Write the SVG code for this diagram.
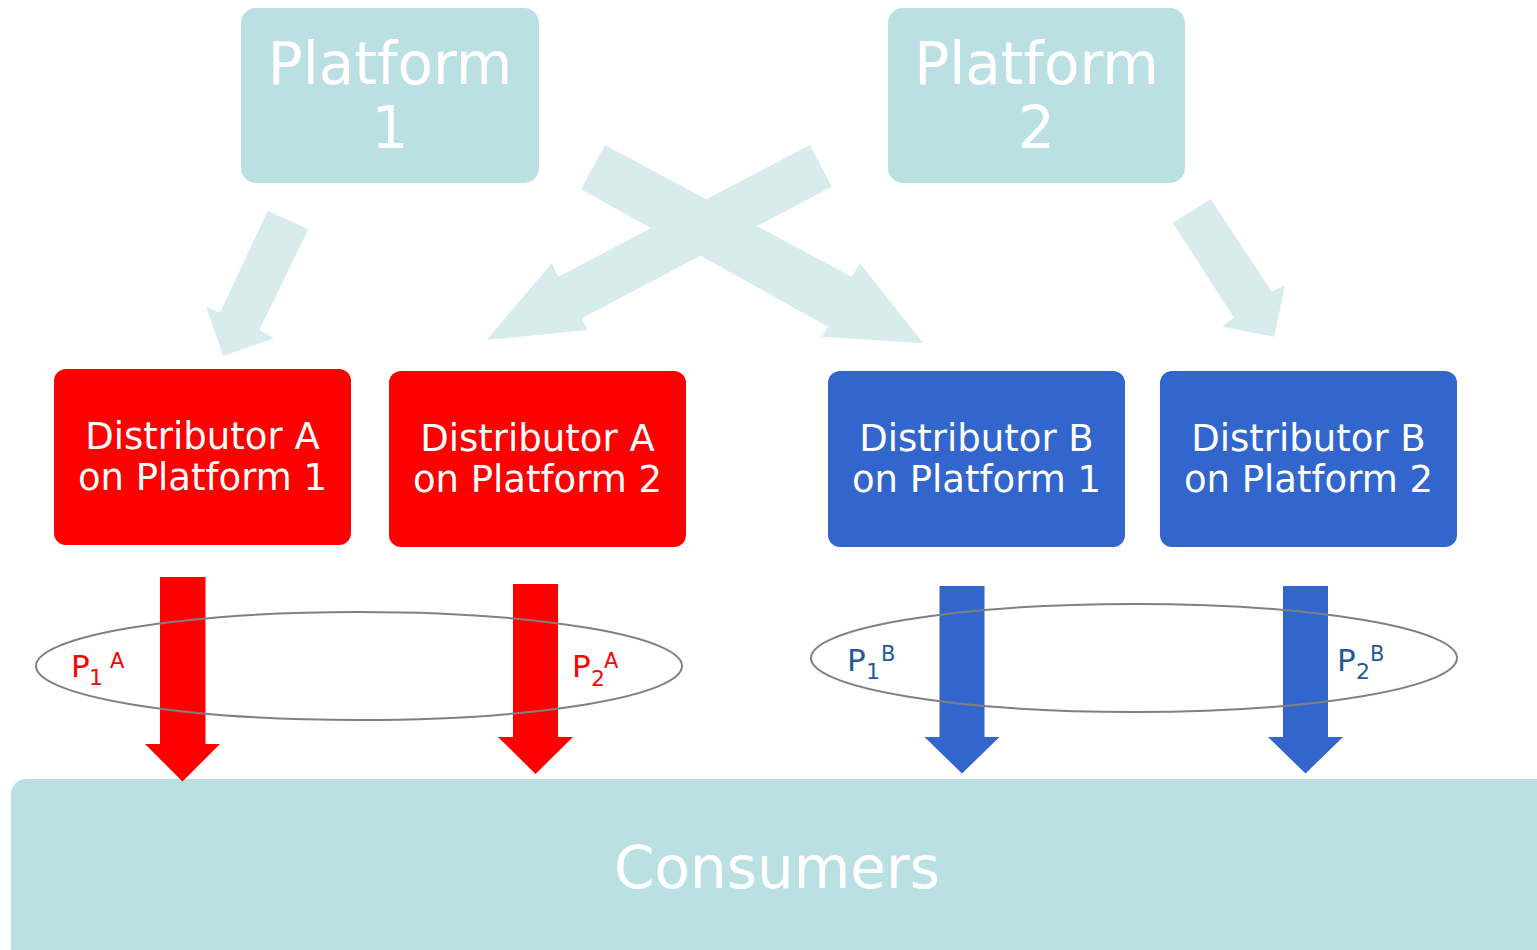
<svg xmlns="http://www.w3.org/2000/svg" width="1537" height="950" viewBox="0 0 1537 950">
  <style>
    .platform rect { fill: #BBE0E3; }
    .platform text { fill: #FFFFFF; font-family: "DejaVu Sans", Verdana, sans-serif; font-size: 58px; text-anchor: middle; }
    .dist text { fill: #FFFFFF; font-family: "DejaVu Sans", Verdana, sans-serif; font-size: 37px; text-anchor: middle; }
    .distA rect { fill: #FF0000; }
    .distB rect { fill: #3366CC; }
    .flow { fill: #D8ECEE; }
    .downA { fill: #FF0000; }
    .downB { fill: #3366CC; }
    .group { fill: none; stroke: #808080; stroke-width: 2; }
    .price { font-family: "DejaVu Sans", Verdana, sans-serif; font-size: 31px; }
    .priceA { fill: #FF0000; }
    .priceB { fill: #1F5A9A; }
  </style>

  <!-- platforms -->
  <g id="platform1" class="platform">
    <rect x="241" y="8" width="298" height="175" rx="15"/>
    <text x="390" y="84">Platform</text>
    <text x="390" y="148">1</text>
  </g>
  <g id="platform2" class="platform">
    <rect x="888" y="8" width="297" height="175" rx="15"/>
    <text x="1036.5" y="84">Platform</text>
    <text x="1036.5" y="148">2</text>
  </g>

  <!-- distributors -->
  <g id="distA1" class="dist distA">
    <rect x="54" y="369" width="297" height="176" rx="12"/>
    <text x="202.5" y="449">Distributor A</text>
    <text x="202.5" y="490">on Platform 1</text>
  </g>
  <g id="distA2" class="dist distA">
    <rect x="389" y="371" width="297" height="176" rx="12"/>
    <text x="537.5" y="451">Distributor A</text>
    <text x="537.5" y="492">on Platform 2</text>
  </g>
  <g id="distB1" class="dist distB">
    <rect x="828" y="371" width="297" height="176" rx="12"/>
    <text x="976.5" y="451">Distributor B</text>
    <text x="976.5" y="492">on Platform 1</text>
  </g>
  <g id="distB2" class="dist distB">
    <rect x="1160" y="371" width="297" height="176" rx="12"/>
    <text x="1308.5" y="451">Distributor B</text>
    <text x="1308.5" y="492">on Platform 2</text>
  </g>

  <!-- consumers -->
  <g id="consumers" class="platform">
    <rect x="11" y="779" width="1546" height="190" rx="15"/>
    <text x="777" y="888">Consumers</text>
  </g>

  <!-- connectors -->
  <g id="connectors">
    <!-- platforms to distributors -->
    <polygon class="flow" points="267.7,210.7 308.3,229.3 259.3,330 274,338.3 223.3,356 206,306.7 220,312.7"/>
    <polygon class="flow" points="605,145 581,189.3 828,326.7 821.7,336.7 923.3,343.3 860,263.3 851.7,276.7"/>
    <polygon class="flow" points="810,145 831.7,186.7 581.7,318.3 587.3,330 486.7,340 551.7,263.3 558.3,276.7"/>
    <polygon class="flow" points="1172.7,222.7 1210.7,199 1271.7,291.7 1285,285 1274.3,336.7 1221.7,326.7 1234,317.7"/>
    <!-- distributors to consumers -->
    <polygon class="downA" points="160,577 205.5,577 205.5,744 220,744 182.5,781.5 145,744 160,744"/>
    <polygon class="downA" points="513,584 558,584 558,737 573,737 535.5,774 498,737 513,737"/>
    <polygon class="downB" points="939.5,586 984.5,586 984.5,737 999.5,737 962,773.5 924.5,737 939.5,737"/>
    <polygon class="downB" points="1283,586 1328,586 1328,737 1343,737 1305.5,773.5 1268,737 1283,737"/>
  </g>

  <!-- price groups -->
  <g id="pricesA">
    <ellipse class="group" cx="359" cy="666" rx="323" ry="54"/>
    <text class="price priceA"><tspan x="71" y="677">P</tspan><tspan x="89" y="685" font-size="22">1</tspan><tspan x="110" y="668" font-size="21">A</tspan></text>
    <text class="price priceA"><tspan x="572" y="677">P</tspan><tspan x="591" y="686" font-size="22">2</tspan><tspan x="604" y="668" font-size="21">A</tspan></text>
  </g>
  <g id="pricesB">
    <ellipse class="group" cx="1134" cy="658" rx="323" ry="54"/>
    <text class="price priceB"><tspan x="847" y="671">P</tspan><tspan x="866" y="679" font-size="22">1</tspan><tspan x="881" y="661" font-size="21">B</tspan></text>
    <text class="price priceB"><tspan x="1337" y="671">P</tspan><tspan x="1356" y="679" font-size="22">2</tspan><tspan x="1370" y="661" font-size="21">B</tspan></text>
  </g>
</svg>
